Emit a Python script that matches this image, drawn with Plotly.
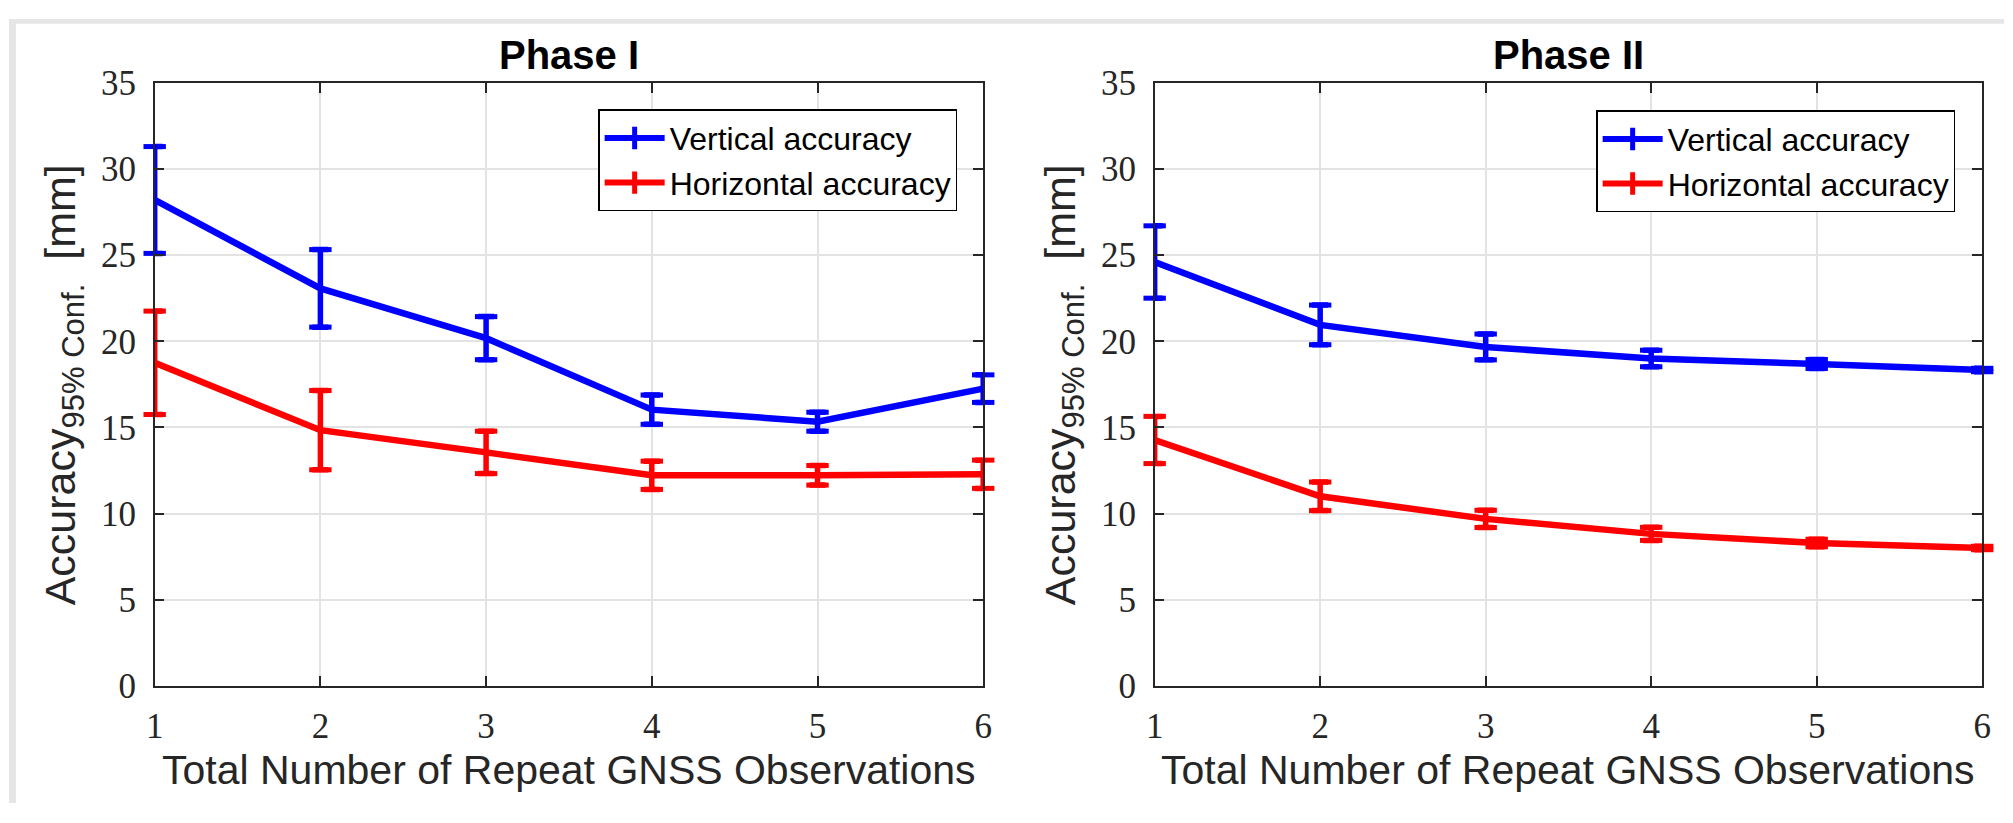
import plotly.graph_objects as go

# ---------------- data ----------------
x_obs = [1, 2, 3, 4, 5, 6]
x_ticks = [1, 2, 3, 4, 5, 6]
y_ticks = [0, 5, 10, 15, 20, 25, 30, 35]

series_names = ["Vertical accuracy", "Horizontal accuracy"]
panel_titles = ["Phase I", "Phase II"]

p1_vert = [28.2, 23.07, 20.18, 16.03, 15.33, 17.25]
p1_vert_err = [3.1, 2.25, 1.25, 0.85, 0.55, 0.8]
p1_horz = [18.75, 14.84, 13.55, 12.22, 12.22, 12.28]
p1_horz_err = [3.0, 2.3, 1.23, 0.82, 0.57, 0.82]

p2_vert = [24.6, 20.95, 19.67, 19.0, 18.68, 18.33]
p2_vert_err = [2.1, 1.15, 0.75, 0.48, 0.26, 0.1]
p2_horz = [14.27, 11.0, 9.69, 8.82, 8.29, 8.0]
p2_horz_err = [1.37, 0.83, 0.5, 0.38, 0.22, 0.1]

x_label = "Total Number of Repeat GNSS Observations"
y_label = ("Accuracy<sub><span style='font-size:31px'>95% Conf.</span></sub>"
           "&nbsp;&nbsp;[mm]")

colors = ["#0000ff", "#ff0000"]

# ---------------- figure ----------------
W, H = 2013, 823
fig = go.Figure()

panels = [
    ("x", "y", "legend", [(p1_vert, p1_vert_err), (p1_horz, p1_horz_err)]),
    ("x2", "y2", "legend2", [(p2_vert, p2_vert_err), (p2_horz, p2_horz_err)]),
]

for xa, ya, leg, series in panels:
    for (vals, errs), name, col in zip(series, series_names, colors):
        # line + error stems
        fig.add_trace(go.Scatter(
            x=x_obs, y=vals, mode="lines", name=name,
            line=dict(color=col, width=6.5),
            error_y=dict(type="data", array=errs, visible=True,
                         color=col, thickness=5.5, width=8),
            xaxis=xa, yaxis=ya, showlegend=False,
        ))
        # error-bar caps drawn unclipped (so they show at the axis edges)
        cap_x = x_obs + x_obs
        cap_y = [v + e for v, e in zip(vals, errs)] + [v - e for v, e in zip(vals, errs)]
        fig.add_trace(go.Scatter(
            x=cap_x, y=cap_y, mode="markers", name=name,
            marker=dict(symbol="line-ew", size=16,
                        line=dict(color=col, width=5)),
            xaxis=xa, yaxis=ya, showlegend=False, cliponaxis=False,
            hoverinfo="skip",
        ))
    for name, col in zip(series_names, colors):
        fig.add_trace(go.Scatter(
            x=[None], y=[None], mode="lines+markers", name=name,
            line=dict(color=col, width=6),
            marker=dict(symbol="line-ns", size=16,
                        line=dict(color=col, width=5)),
            xaxis=xa, yaxis=ya, legend=leg, showlegend=True,
        ))


def px_x(p):
    return p / W


def px_y(p):
    return 1 - p / H


tick_font = dict(family="Liberation Serif", size=35, color="#262626")
axis_common = dict(
    showline=True, linecolor="#262626", linewidth=1.5, mirror="ticks",
    ticks="inside", ticklen=10, tickwidth=1.5, tickcolor="#262626",
    showgrid=True, gridcolor="#e3e3e3", gridwidth=1.5, zeroline=False,
    tickfont=tick_font,
)

xdoms = [[px_x(147), px_x(983)], [px_x(1156), px_x(1991)]]
ydom = [px_y(700), px_y(67)]

layout = dict(
    width=W, height=H,
    margin=dict(l=0, r=0, t=0, b=0, pad=0),
    paper_bgcolor="white",
    plot_bgcolor="white",
    showlegend=True,
)
for i, (xn, yn) in enumerate([("xaxis", "yaxis"), ("xaxis2", "yaxis2")]):
    layout[xn] = dict(axis_common, domain=xdoms[i], range=[1, 6],
                      tickvals=x_ticks, ticklabelstandoff=8,
                      anchor="y" if i == 0 else "y2")
    layout[yn] = dict(axis_common, domain=ydom, range=[0, 35],
                      tickvals=y_ticks, ticklabelstandoff=10,
                      anchor="x" if i == 0 else "x2")

leg_common = dict(
    font=dict(family="Liberation Sans", size=32, color="black"),
    bgcolor="white", bordercolor="black", borderwidth=1.2,
    xanchor="right", yanchor="top", traceorder="normal",
    itemwidth=60, tracegroupgap=0,
)
layout["legend"] = dict(leg_common, x=px_x(957), y=px_y(95))
layout["legend2"] = dict(leg_common, x=px_x(1964), y=px_y(96))

fig.update_layout(**layout)

# thin grey frame on top and left edges (as in the screenshot)
fig.add_shape(type="rect", xref="paper", yref="paper",
              x0=0, x1=1, y0=px_y(5), y1=1,
              fillcolor="#e6e6e6", line=dict(width=0), layer="below")
fig.add_shape(type="rect", xref="paper", yref="paper",
              x0=0, x1=px_x(7), y0=0, y1=1,
              fillcolor="#e6e6e6", line=dict(width=0), layer="below")

annots = []
centers = [(147 + 983) / 2, (1156 + 1991) / 2]
ylab_x = [55, 1064]
for i in range(2):
    annots.append(dict(
        text="<b>" + panel_titles[i] + "</b>", xref="paper", yref="paper",
        x=px_x(centers[i]), y=px_y(38), xanchor="center", yanchor="middle",
        showarrow=False,
        font=dict(family="Liberation Sans", size=40, color="black")))
    annots.append(dict(
        text=x_label, xref="paper", yref="paper",
        x=px_x(centers[i]), y=px_y(788), xanchor="center", yanchor="middle",
        showarrow=False,
        font=dict(family="Liberation Sans", size=41, color="#262626")))
    annots.append(dict(
        text=y_label, xref="paper", yref="paper", textangle=-90,
        x=px_x(ylab_x[i]), y=px_y(384), xanchor="center", yanchor="middle",
        showarrow=False,
        font=dict(family="Liberation Sans", size=43, color="#262626")))
fig.update_layout(annotations=annots)

fig.write_html("out.html")
